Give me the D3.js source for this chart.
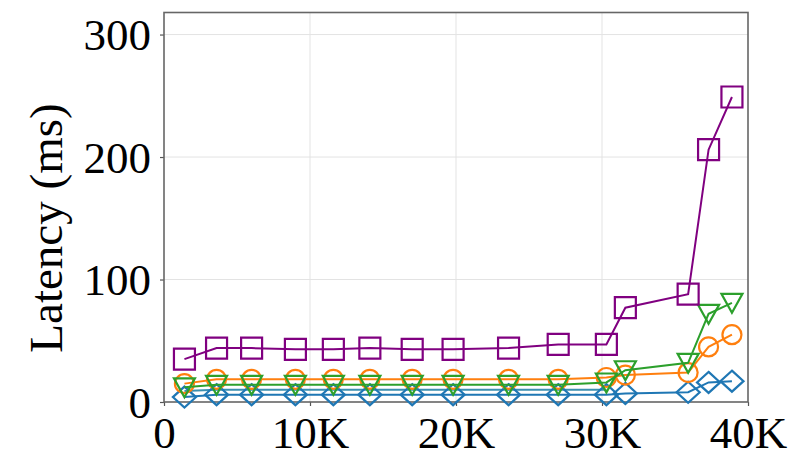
<!DOCTYPE html>
<html>
<head>
<meta charset="utf-8">
<script src="https://cdn.jsdelivr.net/npm/d3@7"></script>
<style>
  html, body { margin: 0; padding: 0; background: #fff; }
  svg { display: block; }
  text { font-family: "Liberation Serif", "Times New Roman", serif; fill: #000; }
</style>
</head>
<body>
<svg id="chart" width="791" height="458"></svg>
<script>
// Offered load (requests) at each measurement
const loads = [1400, 3600, 6000, 9000, 11600, 14100, 17000, 19800, 23600, 27000, 30300, 31600, 35900, 37300, 38900];

// Latency (ms) per system
const latencyBlue   = [4, 6, 6, 6, 6, 6, 6, 6, 6, 6, 6, 7, 8, 16, 17];
const latencyTeal   = [9, 10, 10, 10, 10, 10, 10, 10, 10, 10, 10, null, null, null, null];
const latencyOrange = [15, 18.5, 18.5, 18.5, 18.5, 18.5, 18.5, 18.5, 18.5, 18.5, 20, 22, 24, 45, 55];
const latencyGreen  = [12, 14, 14, 14, 14, 14, 14, 14, 14, 14, 16, 26, 32, 72, 81];
const latencyPurple = [35, 44, 44, 43, 43, 44, 43, 43, 44, 47, 47, 77, 88, 206, 249];

const xTicks = [0, 10000, 20000, 30000, 40000];
const xTickLabels = ["0", "10K", "20K", "30K", "40K"];
const yTicks = [0, 100, 200, 300];
const yLabel = "Latency (ms)";

const series = [
  { values: latencyTeal,   color: "#3b8fb0", marker: "none" },
  { values: latencyBlue,   color: "#1f77b4", marker: "diamond" },
  { values: latencyOrange, color: "#ff7f0e", marker: "circle" },
  { values: latencyGreen,  color: "#2ca02c", marker: "triangleDown" },
  { values: latencyPurple, color: "#800080", marker: "square" }
];

const svg = d3.select("#chart");
const plotLeft = 164, plotRight = 748, plotTop = 12.5, plotBottom = 402;

const x = d3.scaleLinear().domain([0, 40000]).range([plotLeft, plotRight]);
const y = d3.scaleLinear().domain([0, 318]).range([plotBottom, plotTop]);

// grid
const grid = svg.append("g").attr("stroke", "#e3e3e3").attr("stroke-width", 1);
xTicks.filter(t => t > 0 && t < 40000).forEach(t => {
  grid.append("line").attr("x1", x(t)).attr("x2", x(t)).attr("y1", plotTop).attr("y2", plotBottom);
});
yTicks.filter(t => t > 0).forEach(t => {
  grid.append("line").attr("x1", plotLeft).attr("x2", plotRight).attr("y1", y(t)).attr("y2", y(t));
});

// axes
const xAxis = d3.axisBottom(x).tickValues(xTicks).tickFormat((d, i) => xTickLabels[i]).tickSize(4).tickPadding(8);
const yAxis = d3.axisLeft(y).tickValues(yTicks).tickFormat(d3.format("d")).tickSize(4).tickPadding(9);

const gx = svg.append("g").attr("transform", `translate(0,${plotBottom})`).call(xAxis);
const gy = svg.append("g").attr("transform", `translate(${plotLeft},0)`).call(yAxis);
[gx, gy].forEach(g => {
  g.select(".domain").remove();
  g.selectAll(".tick line").attr("stroke", "#555").attr("stroke-width", 1.2);
  g.selectAll(".tick text").style("font-size", "45px").attr("fill", "#000");
});
gx.selectAll(".tick text").attr("dy", "0.76em");
gy.selectAll(".tick text").attr("dy", "0.34em");

// frame
svg.append("rect")
  .attr("x", plotLeft).attr("y", plotTop)
  .attr("width", plotRight - plotLeft).attr("height", plotBottom - plotTop)
  .attr("fill", "none").attr("stroke", "#666").attr("stroke-width", 1.6);

// y label
svg.append("text")
  .attr("transform", `translate(62,228) rotate(-90)`)
  .attr("text-anchor", "middle")
  .style("font-size", "47px")
  .text(yLabel);

// series
const plot = svg.append("g");
const line = d3.line()
  .defined(d => d.v !== null)
  .x(d => x(d.x)).y(d => y(d.v));

function markerPath(kind) {
  const r = 10.5;
  switch (kind) {
    case "diamond": return `M0,${-r}L${r * 1.1},0L0,${r}L${-r * 1.1},0Z`;
    case "square": return `M${-r},${-r}H${r}V${r}H${-r}Z`;
    case "circle": return d3.symbol(d3.symbolCircle, Math.PI * 9.5 * 9.5)();
    case "triangleDown": return `M${-r},${-r * 0.85}L${r},${-r * 0.85}L0,${r * 0.95}Z`;
    default: return null;
  }
}

series.forEach(s => {
  const pts = loads.map((l, i) => ({ x: l, v: s.values[i] }));
  plot.append("path")
    .datum(pts)
    .attr("fill", "none")
    .attr("stroke", s.color)
    .attr("stroke-width", 2)
    .attr("d", line);
  const mp = markerPath(s.marker);
  if (mp) {
    plot.append("g").selectAll("path")
      .data(pts.filter(p => p.v !== null))
      .join("path")
      .attr("transform", p => `translate(${x(p.x)},${y(p.v)})`)
      .attr("d", mp)
      .attr("fill", "none")
      .attr("stroke", s.color)
      .attr("stroke-width", 2.2);
  }
});
</script>
</body>
</html>
